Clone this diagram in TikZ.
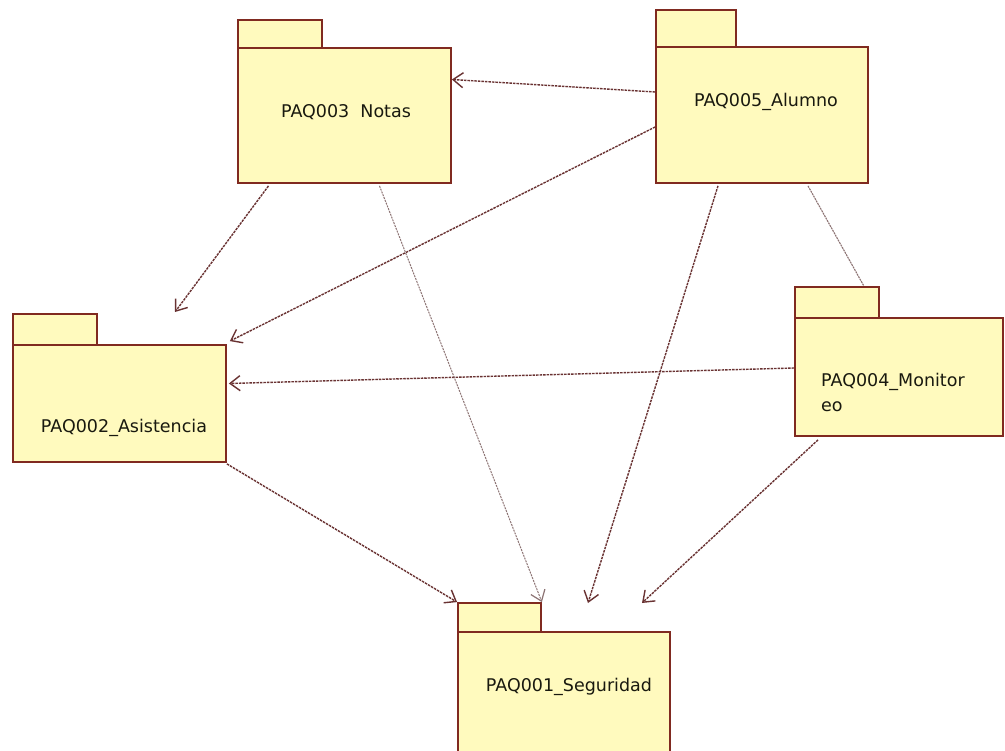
\documentclass[tikz,border=0pt]{standalone}
\usepackage{fontspec}
\setmainfont{DejaVu Sans}
\usetikzlibrary{arrows.meta}
\definecolor{pkgfill}{RGB}{255,250,190}
\definecolor{pkgline}{RGB}{128,42,32}
\definecolor{dep}{RGB}{105,50,50}
\definecolor{light}{RGB}{140,115,115}
\definecolor{txt}{RGB}{25,25,15}
\tikzset{
  pkgbody/.style={draw=pkgline, fill=pkgfill, line width=1.8pt, inner sep=0pt, rectangle},
  pkgtab/.style={draw=pkgline, fill=pkgfill, line width=1.8pt, inner sep=0pt, rectangle},
  lbl/.style={font=\fontsize{17.5}{22}\selectfont, text=txt, inner sep=0pt},
  depline/.style={draw=dep, line width=1.4pt, dash pattern=on 2.5pt off 1pt,
     -{Straight Barb[length=10pt,width=15pt,line width=1.4pt]}},
  thindep/.style={draw=light, line width=1pt, dash pattern=on 2pt off 1pt,
     -{Straight Barb[length=10pt,width=15pt,line width=1.2pt]}},
  thinline/.style={draw=light, line width=1.1pt, dash pattern=on 2pt off 0.8pt}
}
\begin{document}
\begin{tikzpicture}[x=1pt,y=-1pt]
\useasboundingbox (0,0) rectangle (1005,751);
\clip (0,0) rectangle (1005,751);
\fill[white] (0,0) rectangle (1005,751);
% tabs
\node[pkgtab, minimum width=84pt, minimum height=28pt] (notastab) at (280,34) {};
\node[pkgtab, minimum width=80pt, minimum height=37pt] (alumnotab) at (696,28.5) {};
\node[pkgtab, minimum width=84pt, minimum height=31pt] (asisttab) at (55,329.5) {};
\node[pkgtab, minimum width=84pt, minimum height=31pt] (monittab) at (837,302.5) {};
\node[pkgtab, minimum width=83pt, minimum height=29pt] (segtab) at (499.5,617.5) {};
% bodies
\node[pkgbody, minimum width=213pt, minimum height=135pt] (notas) at (344.5,115.5) {};
\node[pkgbody, minimum width=212pt, minimum height=136pt] (alumno) at (762,115) {};
\node[pkgbody, minimum width=213pt, minimum height=117pt] (asist) at (119.5,403.5) {};
\node[pkgbody, minimum width=208pt, minimum height=118pt] (monit) at (899,377) {};
\node[pkgbody, minimum width=212pt, minimum height=140pt] (segur) at (564,702) {};
% labels
\node[lbl] (notaslbl) at (346,112) {PAQ003\ \ Notas};
\node[lbl] (alumnolbl) at (766,102) {PAQ005\_Alumno};
\node[lbl] (asistlbl) at (124,428) {PAQ002\_Asistencia};
\node[lbl, anchor=west] (monitlbl1) at (821,382) {PAQ004\_Monitor};
\node[lbl, anchor=west] (monitlbl2) at (821,407) {eo};
\node[lbl] (seglbl) at (569,687) {PAQ001\_Seguridad};
% free ends
\coordinate (e3) at (175,312);
\coordinate (e7) at (588,603);
\coordinate (e8) at (642,603);
% connectors
\draw[depline] ([yshift=23pt]alumno.west) -- ([yshift=36pt]notas.east);
\draw[depline] ([yshift=-12pt]alumno.west) -- ([shift={(3pt,3pt)}]asist.north east);
\draw[depline] ([xshift=-76pt,yshift=-2pt]notas.south) -- (e3);
\draw[depline] ([yshift=9pt]monit.west) -- ([shift={(2pt,20pt)}]asist.east);
\draw[thindep] ([xshift=35pt,yshift=-2pt]notas.south) -- (segtab.north east);
\draw[depline] ([yshift=-1pt]asist.south east) -- (segtab.north west);
\draw[depline] ([xshift=-44pt,yshift=-2pt]alumno.south) -- (e7);
\draw[depline] ([xshift=-81pt,yshift=-3pt]monit.south) -- (e8);
\draw[thinline] ([xshift=46pt,yshift=-2pt]alumno.south) -- ([xshift=-16pt]monittab.north east);
\end{tikzpicture}
\end{document}
